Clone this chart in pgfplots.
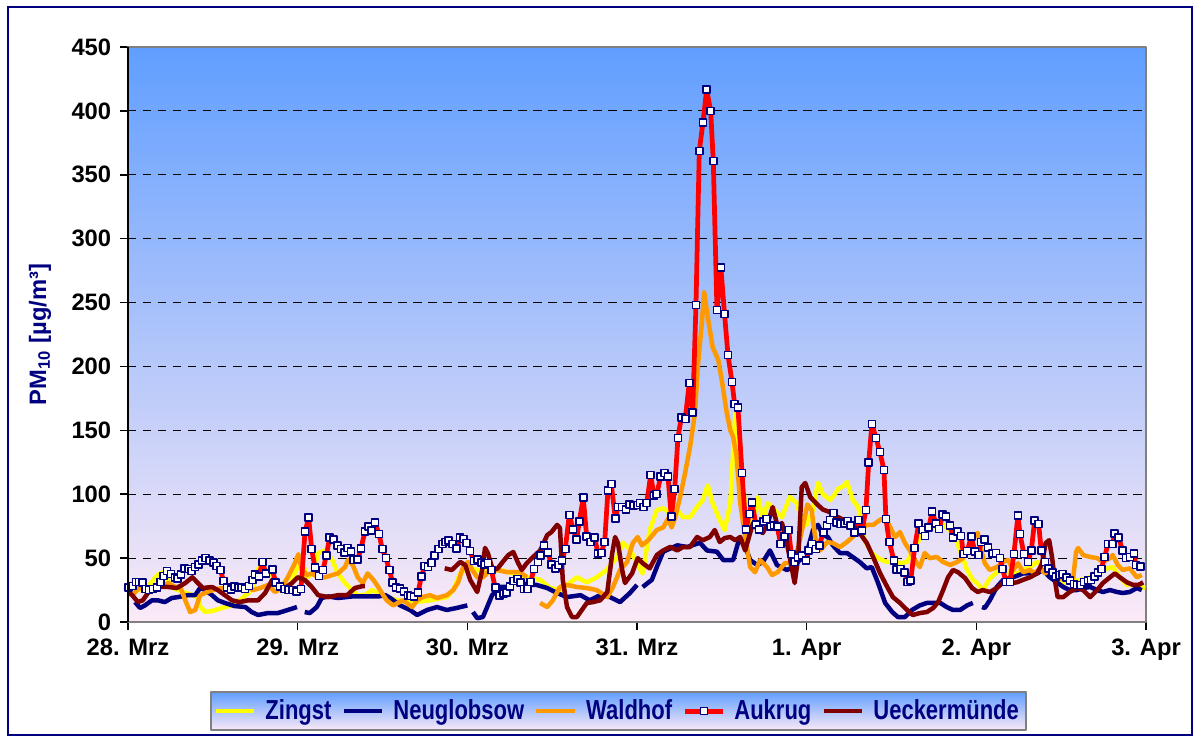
\documentclass[border=0pt]{standalone}
\usepackage{fontspec}
\setmainfont{Liberation Sans}
\newfontfamily\legendfont{Liberation Sans}[FakeStretch=0.8]
\usepackage{pgfplots}
\pgfplotsset{compat=1.18}
\definecolor{zingst}{RGB}{255,255,0}
\definecolor{neuglob}{RGB}{0,0,128}
\definecolor{waldhof}{RGB}{255,153,0}
\definecolor{aukrug}{RGB}{255,0,0}
\definecolor{uecker}{RGB}{128,0,0}
\definecolor{skytop}{RGB}{96,158,255}
\definecolor{skybot}{RGB}{252,234,246}
\newcommand{\chartfont}{\bfseries\fontsize{9.5}{11}\selectfont}

\begin{document}
\begin{tikzpicture}[x=0.4pt,y=0.4pt]
% page = 1200 x 742 reference pixels, origin at the axis corner
\useasboundingbox (-128,-120) rectangle (1072,622);
\draw[neuglob,line width=0.6pt] (-120,-113) rectangle (1064,615);
\begin{axis}[
    name=ax,
    at={(0,0)}, anchor=south west,
    scale only axis, width=407.2pt, height=230pt,
    xmin=0, xmax=144, ymin=0, ymax=450,
    xtick={0,24,...,144},
    xticklabels={28. Mrz,29. Mrz,30. Mrz,31. Mrz,1. Apr,2. Apr,3. Apr},
    ytick={0,50,...,450},
    extra y ticks={50,100,...,400},
    extra y tick labels={},
    extra y tick style={grid=major, major tick length=0pt},
    major grid style={black, line width=0.4pt, dash pattern=on 3.4pt off 2.6pt},
    tick pos=left, tick align=outside, major tick length=3.2pt,
    tick style={black, line width=0.6pt},
    axis line style={gray, line width=0.6pt},
    axis background/.style={top color=skytop, bottom color=skybot},
    /pgf/number format/assume math mode=true,
    ticklabel style={font=\chartfont},
    ylabel={PM\textsubscript{10} [µg/m³]},
    ylabel style={at={(axis description cs:-0.0864,0.5)}, anchor=center, text=neuglob, font=\chartfont},
    unbounded coords=jump,
    line join=round,
    legend columns=-1,
    legend image code/.code={\draw[mark repeat=2,mark phase=2,#1] plot coordinates {(0pt,0pt) (7.75pt,0pt) (15.5pt,0pt)};},
    legend style={at={(0.482,-0.155)}, anchor=center, draw=gray, line width=0.8pt,
        top color=skytop, bottom color=skybot, font=\legendfont\bfseries\fontsize{11}{12}\selectfont, text=neuglob,
        inner xsep=1pt, inner ysep=1pt,
        /tikz/every odd column/.append style={column sep=1.5pt},
        /tikz/every even column/.append style={column sep=2pt}},
]
% Zingst
\addplot[zingst, line width=1.8pt] coordinates {
(0,25) (2.4,25) (4.2,37) (5.0,39) (6.2,27) (7.1,25) (9.1,21) (9.8,19.5) (10.2,12) (10.9,8)
(11.9,8.6) (13.3,11) (14.7,13) (15.8,17) (17.5,25) (18.3,38) (18.7,47) (19.4,40.7) (20.4,36.8) (21.2,25)
(22.6,23.5) (23.2,33) (24.0,43) (24.6,48.5) (25.3,35) (26.2,38) (26.9,54) (27.9,56) (28.9,48.5) (29.7,38)
(30.7,30.5) (31.7,25) (32.5,21) (33.5,21) (34.5,25) (35.4,22.7) (36.4,19.5) (38.1,17) (40.3,15.6) (42.7,17)
(45.1,19.5) (46.0,25) (47.0,38) (47.9,43) (49.4,40.7) (51.2,40.7) (52.6,40.7) (54.5,38) (56.4,35) (58.3,33)
(59.7,26.6) (61.1,25) (62.1,29) (63.5,35) (64.9,31) (66.3,35) (67.7,40.7) (69.2,51) (70.0,62) (71.0,57)
(72.0,46) (72.8,38) (73.8,72) (74.8,87.6) (75.7,89) (76.7,85) (77.7,87.6) (78.5,82) (79.5,82) (80.5,90)
(81.3,95.5) (82.0,107) (82.7,93) (83.7,80) (84.4,72) (85.2,93) (85.9,163.6) (86.3,140) (87.0,105.6) (87.7,74)
(88.4,80) (89.1,97.8) (89.8,80) (90.5,93) (91.5,87.6) (92.5,82) (93.6,97.8) (94.6,93) (95.3,80) (96.0,76)
(96.9,88) (97.6,109) (98.3,100) (99.3,95.5) (100.0,100) (100.4,104) (101.1,106) (101.7,109.6) (102.1,103) (102.5,95.5)
(103.3,90) (104.2,64) (105.2,54) (106.1,50) (107.3,47) (108.5,47) (109.2,46) (110.2,47) (111.3,58.7) (112.5,69.7)
(113.9,74.4) (115.3,76) (116.7,69.7) (117.7,56) (118.7,40.7) (119.5,33) (120.1,30.5) (120.9,25) (121.9,34) (122.9,39)
(123.8,42) (124.8,38) (125.7,38) (126.6,40.7) (127.6,43) (128.6,47) (129.4,44.6) (130.4,40.7) (131.4,35) (132.3,31)
(133.2,31) (134.7,33) (135.6,34) (137.1,38) (138.5,42) (139.3,43) (140.3,35) (141.3,29) (142.2,29) (143.1,27.4) (143.9,26.6)
};
\addlegendentry{Zingst}
% Neuglobsow
\addplot[neuglob, line width=1.8pt] coordinates {
(1.0,15.6) (1.7,11) (2.4,13) (3.4,17) (4.2,17) (5.2,15.6) (6.2,18.8) (7.1,19.5) (8.5,21) (9.5,21)
(10.2,26.6) (10.9,25) (11.9,21) (12.7,17) (13.7,14.9) (15.1,12.5) (16.6,11.7) (17.5,7.8) (18.4,5.5) (19.8,7)
(21.2,7) (22.6,9.4) (23.9,11.7) (24.4,nan)
(25.0,7.8) (25.7,7) (26.7,11.7) (27.4,18.8) (28.3,20) (29.7,18.8) (31.7,20) (33.5,20) (35.4,20) (36.4,21)
(37.1,18.8) (38.5,13) (39.9,9.4) (40.9,5.5) (42.3,9.4) (43.7,11.7) (45.1,9.4) (46.5,11) (48.0,13) (48.5,nan)
(48.8,7.8) (49.4,3) (50.2,3.9) (50.8,11.7) (51.5,21) (52.6,27.4) (53.6,27.4) (55.0,33) (56.4,29) (57.8,29)
(59.3,26.6) (60.7,22.7) (62.1,19.5) (64.0,21) (65.3,17) (66.8,21) (68.2,19.5) (69.6,15.6) (71.0,22.7) (72.0,29) (72.4,nan)
(72.8,27.4) (74.1,33) (74.8,43) (75.7,55) (77.7,60) (79.1,58.7) (80.9,62) (81.9,56) (83.3,55) (84.2,48.5)
(85.6,48.5) (86.3,62) (87.0,64) (88.0,48.5) (89.0,44.6) (89.8,47) (90.8,56) (91.8,44.6) (93.2,40.7) (94.1,43)
(95.1,49) (96.0,54) (96.9,72) (97.6,76) (98.3,68) (99.0,66.5) (99.7,60) (100.7,54) (101.7,54) (102.5,50.9)
(103.5,47) (104.5,42) (105.2,43) (106.1,30.5) (107.1,14.9) (108.1,7.8) (108.9,3.9) (109.9,3.9) (110.9,9.4) (112.0,13)
(113.0,14.9) (113.9,14.9) (114.9,14.9) (115.8,11.7) (116.7,9.4) (117.7,9.4) (118.7,13) (119.5,14.9) (120.2,nan)
(120.8,11.7) (121.2,11) (121.9,17) (122.9,27.4) (123.8,33) (124.8,34.4) (125.7,36) (126.6,38) (127.6,38) (128.6,38)
(129.4,40.7) (130.4,35) (131.4,31) (132.3,27.4) (133.2,25) (134.2,25) (135.1,26.6) (136.1,27.4) (137.1,25) (137.9,23.5)
(138.9,25) (139.9,23.5) (140.7,22.7) (141.7,23.5) (142.7,26.6) (143.4,25)
};
\addlegendentry{Neuglobsow}
% Waldhof
\addplot[waldhof, line width=1.8pt] coordinates {
(0,23.5) (0.6,21) (1.7,27.4) (2.8,22.7) (4.2,26.6) (5.7,30.5) (6.7,27.4) (7.4,27.4) (8.1,17) (8.8,7.8)
(9.5,9.4) (10.2,21) (11.2,23.5) (12.0,25) (13.3,26.6) (14.1,26.6) (15.4,27.4) (16.6,27.4) (17.7,25) (18.7,26.6)
(19.8,29) (20.8,23.5) (21.8,27.4) (22.6,35) (23.6,46) (24.1,53) (24.6,40.7) (25.3,36.8) (26.0,38) (26.9,35)
(27.9,35) (28.9,36.8) (29.7,38) (30.7,43) (31.1,48.5) (31.8,44.6) (32.5,35) (33.2,30.5) (33.9,38) (34.7,33)
(35.4,27.4) (36.1,21) (36.6,17) (37.5,13) (38.9,17) (40.2,11.7) (40.9,17) (41.7,19.5) (42.7,21) (43.7,18.8)
(45.1,21) (46.0,25) (46.7,31) (47.4,43) (48.1,47) (48.7,40.7) (49.4,35) (50.2,35) (51.2,40.7) (52.2,40.7)
(53.6,39) (55.5,39) (56.4,35) (57.5,nan)
(58.3,14.9) (59.3,11.7) (60.1,17) (61.1,27.4) (62.1,29) (63.5,27.4) (64.9,26.6) (66.3,25) (67.8,19.5) (68.6,27.4)
(69.6,40.7) (70.6,47) (71.4,61.8) (72.1,66.5) (72.7,60) (73.6,64) (74.8,72) (75.7,74) (76.4,81) (76.9,74)
(77.4,82) (78.1,97.8) (78.8,116.6) (79.5,137) (80.2,163.6) (80.6,199.6) (81.2,236) (81.5,258) (82.0,238.7) (82.7,215)
(83.5,205) (84.0,189) (84.7,163.6) (85.2,150) (85.6,145) (86.1,129) (86.6,93) (87.3,66.5) (88.0,43) (88.7,39)
(89.4,48.5) (90.4,43) (91.1,36.8) (91.9,39) (92.9,46) (94.1,46) (94.8,58.7) (95.5,76) (96.1,92) (96.7,87.6)
(97.2,66.5) (97.9,56) (98.9,62.6) (99.7,61.8) (100.7,58.7) (101.7,62.6) (102.5,66.5) (103.5,72) (104.5,76) (105.4,76)
(106.4,80) (107.1,81.4) (107.8,74.4) (108.5,66.5) (109.2,70.4) (109.9,61.8) (110.6,56) (111.3,48.5) (112.0,43) (112.7,54)
(113.4,50) (114.4,50.9) (115.3,47) (116.3,44.6) (117.3,47) (118.1,50) (118.8,56) (119.5,66.5) (120.2,69.7) (120.8,54)
(121.2,46) (121.9,40.7) (122.9,43) (123.8,47) (124.5,48.5) (125.2,40.7) (125.9,46) (126.6,39) (127.6,40.7) (128.3,38)
(129.0,42) (129.7,38) (130.4,40.7) (131.1,38) (131.8,34.4) (132.8,33) (133.7,34.4) (134.1,54.8) (134.4,57.9) (135.1,52.4)
(136.1,50.9) (137.1,50) (137.9,47) (138.9,50) (139.3,52.4) (140.0,44.6) (140.7,40.7) (141.7,42) (142.7,35) (143.4,36.8)
};
\addlegendentry{Waldhof}
% Aukrug
\addplot[aukrug, line width=1.9pt, mark=square*, mark size=1.4pt,
    mark options={fill=white, draw=neuglob, line width=0.6pt}] coordinates {
(0.04,27) (0.61,28) (1.13,31.5) (1.56,31.5) (2.02,31) (2.50,26) (2.97,25) (3.54,26) (4.10,27) (4.57,31.5)
(5.05,36) (5.52,40) (6.08,37.5) (6.65,35) (7.03,34) (7.50,37) (7.96,42) (8.53,41.5) (9.01,40) (9.48,43)
(9.94,45) (10.47,48) (10.99,50) (11.56,48) (12.07,46.5) (12.55,44) (13.06,40.7) (13.54,32) (14.00,27) (14.57,25.6)
(15.04,27.6) (15.60,27) (16.08,27) (16.55,26) (17.11,28) (17.58,33) (17.96,37) (18.53,35.5) (19.00,47) (19.52,38)
(20.41,41) (20.89,31) (21.50,27.6) (22.11,26) (22.67,25) (23.24,25) (23.86,23.7) (24.47,26) (25.04,70.7) (25.56,81.6)
(25.98,57) (26.45,42.5) (27.02,36) (27.58,40.7) (28.05,52) (28.53,66) (29.09,64.7) (29.66,60) (30.13,57) (30.59,54.5)
(31.07,58) (31.54,55) (31.92,48.5) (32.49,49) (32.96,57.7) (33.52,70.7) (33.99,74.6) (34.47,71.5) (34.94,78) (35.50,69)
(35.97,57) (36.49,50) (36.96,40.7) (37.44,31) (37.91,27) (38.47,26.4) (39.04,23.7) (39.60,20.6) (39.99,20.3) (40.45,19.8)
(41.02,23) (41.49,35.5) (41.97,43.8) (42.43,43) (42.90,46) (43.38,52) (43.95,57) (44.51,61) (44.88,62.8) (45.36,63.6)
(45.93,61) (46.49,57.7) (46.96,66) (47.43,65) (47.91,62) (48.37,55.5) (48.94,47.7) (49.41,49) (49.97,46.7) (50.45,45)
(50.92,46) (51.39,40.7) (51.95,27) (52.52,20.6) (53.08,22.4) (53.56,23) (54.03,27.6) (54.50,32) (55.06,33.6) (55.54,31)
(56.01,25.8) (56.48,25.8) (56.96,31.5) (57.43,41.5) (57.99,47) (58.37,52) (58.84,59.7) (59.41,54.5) (59.87,45) (60.44,42)
(60.92,44.6) (61.39,48) (61.85,57) (62.42,83.7) (62.98,72.5) (63.46,64.7) (63.83,78.5) (64.40,97.3) (64.88,66.8) (65.45,62.8)
(66.01,66) (66.48,53.8) (66.95,54.2) (67.43,62.8) (67.89,103) (68.36,108) (68.93,81) (69.31,90) (69.87,90) (70.44,88)
(70.91,92) (71.47,91) (72.04,91.6) (72.42,93) (72.89,90) (73.37,93) (73.93,115) (74.40,99) (74.78,100) (75.35,113.7)
(75.91,116.8) (76.38,113.7) (76.85,82.4) (77.33,104) (77.79,144) (78.26,160) (78.83,159) (79.39,187) (79.87,163.8) (80.34,248)
(80.81,368.6) (81.33,391) (81.85,416.6) (82.42,400) (82.79,360.8) (83.31,244) (83.86,277.6) (84.38,241) (84.87,209) (85.43,188)
(85.81,170.6) (86.28,167.7) (86.85,116.8) (87.41,72.5) (87.88,84.5) (88.26,93.4) (88.82,76.5) (89.29,72.5) (89.86,78.5) (90.34,80.6)
(90.90,74.6) (91.37,75.4) (91.84,74.6) (92.32,61) (92.88,66.8) (93.45,72) (93.82,53.2) (94.30,47) (94.77,50.6) (95.33,52)
(95.90,48) (96.28,55.8) (96.75,61) (97.31,57) (97.78,59.7) (98.35,70) (98.87,75.4) (99.29,80) (99.76,85.5) (100.24,77.7)
(100.81,76.7) (101.37,77) (101.74,79) (102.22,75.4) (102.79,70) (103.35,80) (103.82,71.5) (104.38,87.6) (104.77,124.7) (105.23,155)
(105.80,144) (106.36,133) (106.93,119) (107.21,80.6) (107.68,62.8) (108.35,48) (108.73,41) (109.29,41.5) (109.86,38.6) (110.23,31.5)
(110.71,32.3) (111.27,58) (111.84,77) (112.35,72) (112.73,67.5) (113.25,73.8) (113.76,86.3) (114.29,77) (114.75,72.8) (115.23,84.3)
(115.70,82.4) (116.27,75.4) (116.73,66) (117.30,70.7) (117.86,67.5) (118.15,53.2) (118.71,55.5) (119.28,66.8) (119.80,55) (120.30,52.4)
(120.65,62.8) (121.17,64.7) (121.68,58.5) (122.31,53.8) (122.77,54.2) (123.34,50) (123.72,41.5) (124.19,31.5) (124.75,31.5) (125.32,53.2)
(125.88,83.5) (126.17,68.9) (126.73,53.2) (127.30,47) (127.77,55.8) (128.25,79.6) (128.81,76.7) (129.18,55.8) (129.74,47) (130.22,42)
(130.79,38.9) (131.26,35.5) (131.73,36.8) (132.20,37.6) (132.77,35) (133.24,32.3) (133.80,29.7) (134.27,29) (134.75,29) (135.22,31.5)
(135.79,32.3) (136.25,32.9) (136.73,35.5) (137.20,38.6) (137.67,41.5) (138.15,51) (138.61,61) (139.28,61) (139.56,69.4) (140.13,66)
(140.69,55.8) (141.16,50) (141.73,51) (142.29,53.8) (142.57,44.6) (143.24,43.3)
};
\addlegendentry{Aukrug}
% Ueckermuende
\addplot[uecker, line width=1.8pt] coordinates {
(0,23.5) (0.6,21) (1.4,15.6) (2.1,17) (3.1,25) (4.2,27.4) (5.7,27.4) (6.9,26.6) (8.1,30.5) (9.1,35)
(9.8,31) (10.6,26.6) (11.9,27.4) (12.7,25) (13.7,21) (14.7,17) (15.8,15.6) (17.0,17) (18.4,17) (19.4,22.7)
(20.4,33) (21.2,30.5) (22.2,26.6) (23.2,30.5) (24.0,35) (25.0,33) (26.0,27.4) (26.9,21) (28.3,19.5) (29.7,21)
(31.0,21) (32.1,26.6) (33.1,28) (33.5,28) (34,nan)
(44.8,42) (45.8,40.7) (47.0,47) (47.7,44.6) (48.4,33) (49.4,23.5) (50.1,40.7) (50.5,58) (50.9,54) (51.6,40.7)
(52.3,42) (53.0,47) (53.8,52.4) (54.5,54.8) (55.2,46) (55.7,40.7) (56.4,46) (57.3,50.9) (58.3,56) (59.3,68)
(59.9,70.4) (60.7,76) (61.1,73.6) (61.5,33) (62.1,11.7) (62.8,3.9) (63.5,3.9) (64.2,9.4) (64.9,14.9) (65.8,15.6)
(66.8,17) (67.8,23.5) (68.5,54) (68.9,66.5) (69.3,61.8) (69.9,40.7) (70.3,30.5) (71.3,38) (72.1,50) (72.8,46)
(73.8,42) (74.8,52.4) (75.7,56) (76.7,58.7) (77.7,56) (78.5,58.7) (79.5,58.7) (80.5,66.5) (81.3,64) (82.3,66.5)
(83.0,72) (83.7,62.6) (84.4,65.7) (85.2,66.5) (85.9,64) (86.6,66.5) (87.3,56) (88.0,69.7) (88.4,77.5) (89.1,72)
(89.8,69.7) (90.5,77.5) (91.2,90) (91.9,74.4) (92.5,77.5) (93.2,61.8) (93.9,42) (94.3,30.5) (94.8,50.9) (95.3,105.6)
(95.8,108.8) (96.5,97.8) (97.5,92) (98.3,88) (99.3,86) (99.7,83.7) (100.7,81.4) (101.7,78.3) (102.5,76) (103.5,69.7)
(104.5,61.8) (105.4,50.9) (106.4,38) (107.4,27.4) (108.2,19.5) (109.2,14.9) (110.2,9.4) (111.0,5.5) (112.0,7) (113.0,7.8)
(113.9,11) (114.6,15.6) (115.3,25) (116.0,35) (116.7,40.7) (117.4,39) (118.4,34.4) (119.4,26.6) (120.2,23.5) (120.9,25)
(121.9,23.5) (122.9,26.6) (123.8,31) (124.8,30.5) (125.7,31) (126.6,33) (127.6,35) (128.6,38) (129.3,46) (129.8,61.8)
(130.3,64) (130.7,50.9) (131.1,33) (131.5,19.5) (132.3,19.5) (133.2,23.5) (134.2,26.6) (135.1,25) (136.1,19.5) (137.1,25)
(137.9,30.5) (138.9,35) (139.6,38) (140.3,35) (141.3,31) (142.2,29) (142.9,29) (143.6,31)
};
\addlegendentry{Ueckermünde}
\end{axis}
\draw[black, line width=0.6pt] (ax.south west) -- (ax.north west);
\end{tikzpicture}
\end{document}
